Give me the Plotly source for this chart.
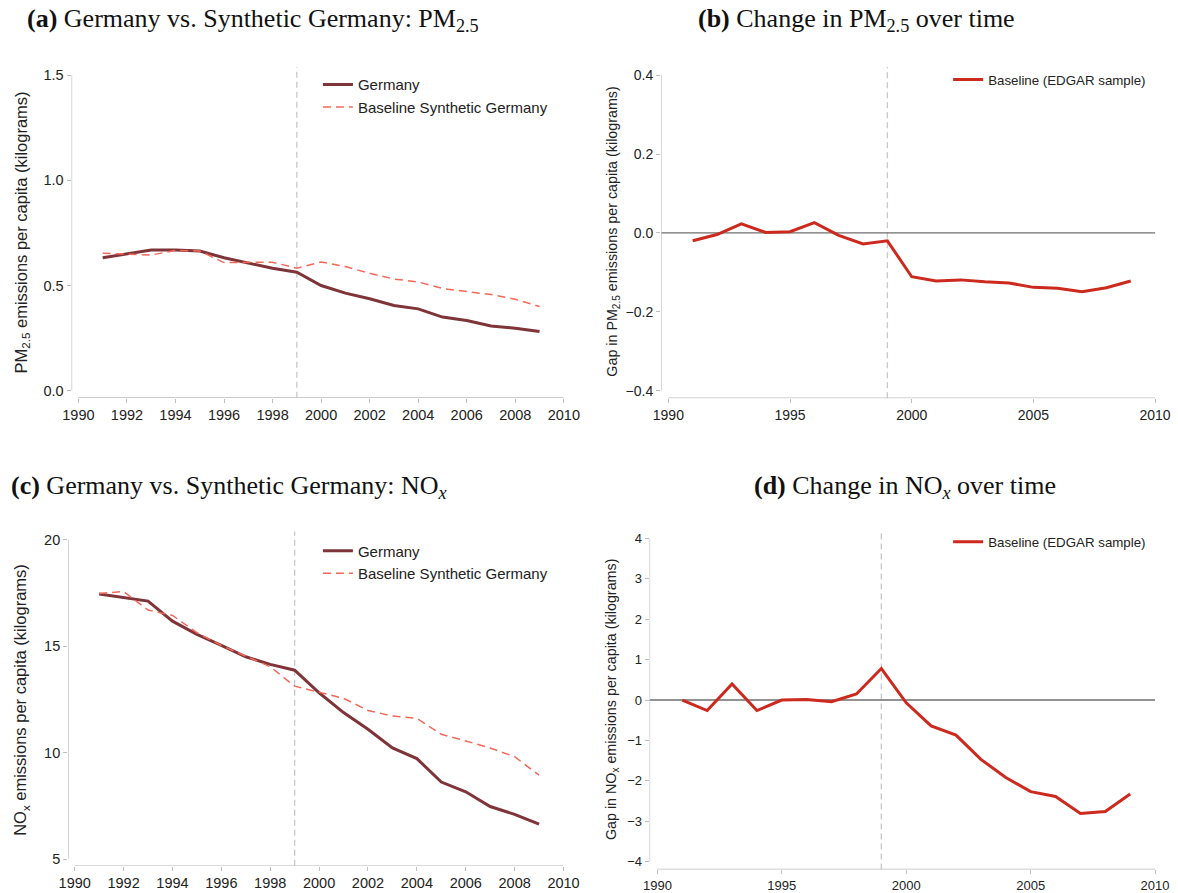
import plotly.graph_objects as go

# ---------------- data ----------------
years = list(range(1991, 2010))

pm_germany = [0.632, 0.649, 0.669, 0.669, 0.664, 0.632, 0.606, 0.582, 0.563,
              0.500, 0.464, 0.437, 0.405, 0.389, 0.350, 0.334, 0.308, 0.297, 0.281]
pm_synthetic = [0.653, 0.649, 0.645, 0.667, 0.664, 0.609, 0.611, 0.611, 0.582,
                0.612, 0.590, 0.558, 0.531, 0.517, 0.486, 0.473, 0.457, 0.435, 0.400]
pm_gap = [-0.020, -0.004, 0.023, 0.001, 0.003, 0.026, -0.006, -0.028, -0.020,
          -0.111, -0.122, -0.119, -0.124, -0.127, -0.138, -0.140, -0.149, -0.139, -0.122]

nox_germany = [17.44, 17.27, 17.11, 16.17, 15.55, 15.03, 14.50, 14.14, 13.87,
               12.81, 11.88, 11.10, 10.22, 9.72, 8.62, 8.16, 7.47, 7.10, 6.64]
nox_synthetic = [17.47, 17.56, 16.69, 16.44, 15.63, 15.03, 14.53, 14.03, 13.12,
                 12.84, 12.55, 11.98, 11.72, 11.61, 10.86, 10.55, 10.22, 9.81, 8.94]
nox_gap = [0.00, -0.26, 0.40, -0.26, 0.00, 0.01, -0.04, 0.15, 0.78,
           -0.07, -0.64, -0.87, -1.47, -1.92, -2.27, -2.39, -2.81, -2.76, -2.33]

treatment_year = 1999

xticks_ab = [1990, 1992, 1994, 1996, 1998, 2000, 2002, 2004, 2006, 2008, 2010]
xticks_gap = [1990, 1995, 2000, 2005, 2010]
yticks_a = [0.0, 0.5, 1.0, 1.5]
yticks_b = [-0.4, -0.2, 0.0, 0.2, 0.4]
yticks_c = [5, 10, 15, 20]
yticks_d = [-4, -3, -2, -1, 0, 1, 2, 3, 4]

# ---------------- style ----------------
W, H = 1178, 893
C_GER = "#7E3438"
C_SYN = "#F4685A"
C_GAP = "#CC2A1E"
C_AXIS = "#BDBDBD"
C_VLINE = "#C8C8C8"
C_ZERO = "#6E6E6E"
SANS = "Liberation Sans, Arial, sans-serif"
SERIF = "Liberation Serif, Times New Roman, serif"


# layout helpers: convert target pixel positions into figure pixel positions
def PX(x):
    return (x - 7.5) / 0.98


def PY(y):
    return (y - 7.8) / 0.99


fig = go.Figure()

# panel geometry in target pixels
panels = {
    "a": dict(x0=77, x1=563, yt=75, yb=391, off=7, xr=(1990, 2010), yr=(0.0, 1.5),
              xt=xticks_ab, yt_vals=yticks_a, fmt=".1f", fs=14.5),
    "b": dict(x0=667.7, x1=1155, yt=75, yb=391, off=7.5, xr=(1990, 2010), yr=(-0.4, 0.4),
              xt=xticks_gap, yt_vals=yticks_b, fmt=".1f", fs=14),
    "c": dict(x0=73.3, x1=562.7, yt=540, yb=860, off=6.7, xr=(1990, 2010), yr=(5, 20),
              xt=xticks_ab, yt_vals=yticks_c, fmt="d", fs=14.5),
    "d": dict(x0=656.7, x1=1155, yt=539, yb=862.3, off=8, xr=(1990, 2010), yr=(-4, 4),
              xt=xticks_gap, yt_vals=yticks_d, fmt="d", fs=13),
}

axis_ids = {"a": ("x", "y", ""), "b": ("x2", "y2", "2"), "c": ("x3", "y3", "3"), "d": ("x4", "y4", "4")}

for key, p in panels.items():
    xa, ya, n = axis_ids[key]
    x0, x1 = PX(p["x0"]), PX(p["x1"])
    yt, yb = PY(p["yt"]), PY(p["yb"])
    off = p["off"]
    xppu = (x1 - x0) / (p["xr"][1] - p["xr"][0])
    yppu = (yb - yt) / (p["yr"][1] - p["yr"][0])
    xpad = off / xppu
    ypad = off / yppu
    xrange = [p["xr"][0] - xpad, p["xr"][1]]
    yrange = [p["yr"][0] - ypad, p["yr"][1]]
    xdom = [(x0 - off) / W, x1 / W]
    ydom = [1 - (yb + off) / H, 1 - yt / H]
    common = dict(showgrid=False, zeroline=False, showline=False, ticks="outside",
                  ticklen=4, tickwidth=1, tickcolor=C_AXIS,
                  tickfont=dict(family=SANS, size=p["fs"], color="#222222"),
                  fixedrange=True)
    fig.update_layout(**{
        "xaxis" + n: dict(domain=xdom, range=xrange, tickvals=p["xt"], anchor=ya, **common),
        "yaxis" + n: dict(domain=ydom, range=yrange, tickvals=p["yt_vals"], anchor=xa,
                          tickformat=p["fmt"], **common),
    })
    # offset axis lines (Stata style)
    fig.add_shape(type="line", xref=xa, yref=ya, x0=p["xr"][0], x1=p["xr"][1],
                  y0=yrange[0], y1=yrange[0], line=dict(color=C_AXIS, width=1.2), layer="below")
    fig.add_shape(type="line", xref=xa, yref=ya, x0=xrange[0], x1=xrange[0],
                  y0=p["yr"][0], y1=p["yr"][1], line=dict(color=C_AXIS, width=1.2), layer="below")
    # treatment year dashed line
    fig.add_shape(type="line", xref=xa, yref=ya + " domain", x0=treatment_year, x1=treatment_year,
                  y0=0, y1=1.025, line=dict(color=C_VLINE, width=1.3, dash="6px,4px"), layer="below")

# zero lines in gap panels
for key in ("b", "d"):
    xa, ya, n = axis_ids[key]
    fig.add_shape(type="line", xref=xa + " domain", yref=ya, x0=0, x1=1, y0=0, y1=0,
                  line=dict(color=C_ZERO, width=1.3), layer="below")

# ---------------- traces ----------------
fig.add_trace(go.Scatter(x=years, y=pm_germany, mode="lines", name="Germany",
                         line=dict(color=C_GER, width=3), xaxis="x", yaxis="y", legend="legend"))
fig.add_trace(go.Scatter(x=years, y=pm_synthetic, mode="lines", name="Baseline Synthetic Germany",
                         line=dict(color=C_SYN, width=1.5, dash="8px,5px"), xaxis="x", yaxis="y",
                         legend="legend"))
fig.add_trace(go.Scatter(x=years, y=pm_gap, mode="lines", name="Baseline (EDGAR sample)",
                         line=dict(color=C_GAP, width=3), xaxis="x2", yaxis="y2", legend="legend2"))
fig.add_trace(go.Scatter(x=years, y=nox_germany, mode="lines", name="Germany",
                         line=dict(color=C_GER, width=3), xaxis="x3", yaxis="y3", legend="legend3"))
fig.add_trace(go.Scatter(x=years, y=nox_synthetic, mode="lines", name="Baseline Synthetic Germany",
                         line=dict(color=C_SYN, width=1.5, dash="8px,5px"), xaxis="x3", yaxis="y3",
                         legend="legend3"))
fig.add_trace(go.Scatter(x=years, y=nox_gap, mode="lines", name="Baseline (EDGAR sample)",
                         line=dict(color=C_GAP, width=3), xaxis="x4", yaxis="y4", legend="legend4"))

leg_common = dict(xanchor="left", yanchor="top", bgcolor="rgba(0,0,0,0)", borderwidth=0,
                  tracegroupgap=0, itemclick=False, itemdoubleclick=False)
# (text start x, first-row centre y, font size, centre offset)
leg_specs = {
    "legend": (356, 85, 15, 17),
    "legend2": (987, 80, 13.3, 16),
    "legend3": (356, 551.7, 15, 17),
    "legend4": (987, 543.3, 13.3, 16.5),
}
for lname, (tx, cy, fs, k) in leg_specs.items():
    fig.update_layout(**{lname: dict(x=(PX(tx) - 40) / W, y=1 - (PY(cy) - k) / H,
                                     font=dict(family=SANS, size=fs, color="#222"), **leg_common)})

# ---------------- titles ----------------
titles = [
    ("<b>(a)</b> Germany vs. Synthetic Germany: PM<sub>2.5</sub>", 25, 20),
    ("<b>(b)</b> Change in PM<sub>2.5</sub> over time", 697, 20),
    ("<b>(c)</b> Germany vs. Synthetic Germany: NO<sub><i>x</i></sub>", 8, 487),
    ("<b>(d)</b> Change in NO<sub><i>x</i></sub> over time", 753, 487),
]
for text, px, py in titles:
    fig.add_annotation(text=text, xref="paper", yref="paper", x=max(PX(px) - 2, 0) / W, y=1 - PY(py) / H,
                       xanchor="left", yanchor="middle", showarrow=False,
                       font=dict(family=SERIF, size=26, color="#111"))

ytitles = [
    ("PM<sub>2.5</sub> emissions per capita (kilograms)", 20, 232, 16.5),
    ("Gap in PM<sub>2.5</sub> emissions per capita (kilograms)", 612, 232, 14.3),
    ("NO<sub>x</sub> emissions per capita (kilograms)", 20, 700, 16.5),
    ("Gap in NO<sub>x</sub> emissions per capita (kilograms)", 612, 700, 14.3),
]
for text, px, py, fs in ytitles:
    fig.add_annotation(text=text, xref="paper", yref="paper", x=PX(px) / W, y=1 - PY(py) / H,
                       xanchor="center", yanchor="middle", textangle=-90, showarrow=False,
                       font=dict(family=SANS, size=fs, color="#222"))

fig.update_layout(width=W, height=H, margin=dict(l=0, r=0, t=0, b=0),
                  plot_bgcolor="white", paper_bgcolor="white", showlegend=True)

fig.write_html("out.html", config={"displayModeBar": False},
               post_script="document.body.style.margin='0';document.body.style.padding='0';"
                           "document.documentElement.style.overflow='hidden';")
